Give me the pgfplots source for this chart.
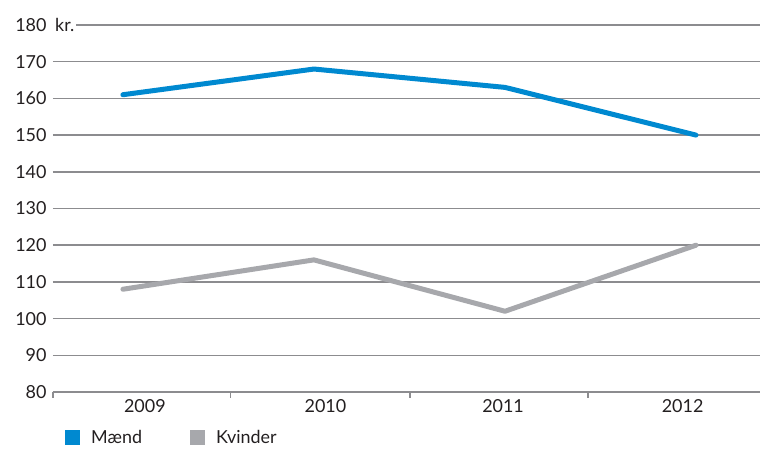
\documentclass[border=0pt]{standalone}
\usepackage{pgfplots}
\pgfplotsset{compat=1.18}
\usepackage{fontspec}
\setmainfont{Lato}
\definecolor{mblue}{HTML}{0089D0}
\definecolor{kgray}{HTML}{A7A8AC}
\definecolor{gridgray}{HTML}{8C8C8F}
\definecolor{txt}{HTML}{231F20}
\begin{document}
\begin{tikzpicture}
\path (0,0) rectangle (760bp,451bp);
\begin{axis}[
    at={(53bp,59bp)}, anchor=south west,
    scale only axis,
    width=707bp, height=367bp,
    xmin=-0.366, xmax=3.335,
    ymin=80, ymax=180,
    ytick={80,90,...,180},
    xtick={0.115,1.06,1.99,2.93},
    xticklabels={2009,2010,2011,2012},
    major tick length=0bp,
    extra x ticks={-0.366,0.565,1.503,2.435},
    extra x tick labels={},
    extra x tick style={tick align=outside, major tick length=6bp, grid=none,
        major tick style={draw=gridgray, line width=1.2bp}},
    xtick pos=bottom,
    ytick style={draw=none},
    ymajorgrids,
    grid style={draw=gridgray, line width=1.5bp},
    separate axis lines,
    x axis line style={draw=gridgray, line width=1.5bp},
    y axis line style={draw=none},
    /pgf/number format/assume math mode=true,
    tick label style={font=\fontsize{18}{20}\selectfont, text=txt},
    yticklabel style={xshift=-3bp},
    xticklabel style={yshift=-4bp},
    legend style={at={(0.017,-0.125)}, anchor=west, draw=none, fill=none,
        legend columns=2, inner sep=0pt,
        font=\fontsize{18}{20}\selectfont, text=txt,
        /tikz/every even column/.append style={column sep=46bp}},
    legend image code/.code={\fill[#1, draw=none] (0bp,-7.5bp) rectangle (15bp,7.5bp);
        \path[draw=none, fill=none] (15bp,0) -- (24bp,0);},
    clip=false,
]
\addplot[color=mblue, line width=5bp, line join=round, line cap=round] coordinates {
(0,161) (1,168) (2,163) (3,150)
};
\addlegendentry{Mænd}
\addplot[color=kgray, line width=5bp, line join=round, line cap=round] coordinates {
(0,108) (1,116) (2,102) (3,120)
};
\addlegendentry{Kvinder}
\node[anchor=west, fill=white, inner sep=2bp, text=txt, font=\fontsize{18}{20}\selectfont]
  at (axis cs:-0.366,180) {kr.};
\end{axis}
\pgfresetboundingbox
\path[use as bounding box] (0,0) rectangle (760bp,451bp);
\end{tikzpicture}
\end{document}
